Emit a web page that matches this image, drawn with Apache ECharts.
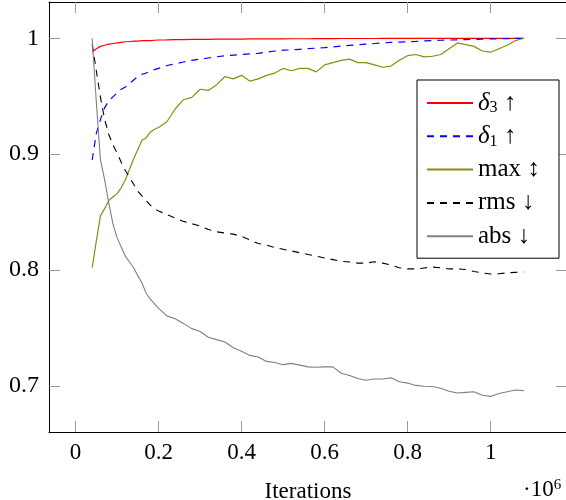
<!DOCTYPE html>
<html>
<head>
<meta charset="utf-8">
<script src="https://cdn.jsdelivr.net/npm/echarts@6/dist/echarts.min.js"></script>
<style>
  html, body { margin: 0; padding: 0; background: #fff; }
  #main { width: 566px; height: 500px; }
</style>
</head>
<body>
<div id="main"></div>
<script type="text/javascript">
// data
var iterations = [
  40000, 50000, 60000, 70000, 80000, 90000, 100000, 110000, 120000, 130000,
  140000, 150000, 160000, 170000, 180000, 190000, 200000,
  220000, 240000, 260000, 280000, 300000, 320000, 340000, 360000, 380000, 400000,
  420000, 440000, 460000, 480000, 500000, 520000, 540000, 560000, 580000, 600000,
  620000, 640000, 660000, 680000, 700000, 720000, 740000, 760000, 780000, 800000,
  820000, 840000, 860000, 880000, 900000, 920000, 940000, 960000, 980000, 1000000,
  1020000, 1040000, 1060000, 1080000
];
var delta3 = [
  0.988, 0.991, 0.993, 0.994, 0.995, 0.9955, 0.996, 0.9965, 0.997, 0.997,
  0.9975, 0.9975, 0.998, 0.998, 0.998, 0.9983, 0.9985,
  0.9986, 0.9988, 0.9989, 0.999, 0.999, 0.9991, 0.9992, 0.9992, 0.9993, 0.9993,
  0.9994, 0.9994, 0.9995, 0.9995, 0.9995, 0.9996, 0.9996, 0.9996, 0.9997, 0.9997,
  0.9997, 0.9998, 0.9998, 0.9998, 0.9998, 0.9998, 0.9999, 0.9999, 0.9999, 0.9999,
  0.9999, 0.9999, 0.9999, 1, 1, 1, 1, 1, 1, 1,
  1, 1, 1, 1
];
var delta1 = [
  0.895, 0.918, 0.930, 0.940, 0.946, 0.9495, 0.953, 0.956, 0.958, 0.961,
  0.964, 0.967, 0.969, 0.970, 0.9715, 0.973, 0.974,
  0.9765, 0.978, 0.9795, 0.981, 0.982, 0.983, 0.984, 0.985, 0.9855, 0.986,
  0.9865, 0.987, 0.988, 0.989, 0.9897, 0.990, 0.9905, 0.991, 0.9915, 0.992,
  0.9926, 0.9932, 0.9938, 0.9944, 0.995, 0.9955, 0.996, 0.9964, 0.9967, 0.997,
  0.9973, 0.9977, 0.998, 0.9983, 0.9985, 0.9987, 0.9989, 0.999, 0.9992, 0.9994,
  0.9996, 0.9997, 0.9999, 1
];
var maxErr = [
  0.802, 0.825, 0.847, 0.853, 0.860, 0.863, 0.866, 0.871, 0.878, 0.887,
  0.896, 0.904, 0.912, 0.914, 0.919, 0.9215, 0.923,
  0.928, 0.939, 0.947, 0.949, 0.956, 0.955, 0.960, 0.967, 0.965, 0.968,
  0.963, 0.965, 0.968, 0.970, 0.974, 0.972, 0.974, 0.974, 0.971, 0.977,
  0.979, 0.981, 0.982, 0.979, 0.979, 0.977, 0.975, 0.976, 0.981, 0.985,
  0.986, 0.984, 0.9845, 0.986, 0.991, 0.996, 0.9945, 0.993, 0.989, 0.988,
  0.991, 0.994, 0.998, 1
];
var rmsErr = [
  0.995, 0.972, 0.949, 0.930, 0.917, 0.908, 0.901, 0.893, 0.886, 0.880,
  0.874, 0.868, 0.864, 0.860, 0.856, 0.853, 0.851,
  0.848, 0.845, 0.842, 0.840, 0.838, 0.835, 0.833, 0.832, 0.831, 0.829,
  0.826, 0.823, 0.8215, 0.8195, 0.818, 0.8165, 0.815, 0.8135, 0.812, 0.8105,
  0.809, 0.8075, 0.807, 0.806, 0.806, 0.8072, 0.806, 0.8043, 0.802, 0.801,
  0.801, 0.8018, 0.8026, 0.802, 0.801, 0.801, 0.8005, 0.7988, 0.7975, 0.7966,
  0.7968, 0.7977, 0.798, 0.7983
];
var absErr = [
  1.0, 0.945, 0.895, 0.878, 0.858, 0.840, 0.828, 0.820, 0.812, 0.807,
  0.802, 0.795, 0.789, 0.780, 0.775, 0.771, 0.767,
  0.7605, 0.758, 0.754, 0.7495, 0.747, 0.742, 0.740, 0.738, 0.733, 0.730,
  0.7264, 0.725, 0.7212, 0.7203, 0.7184, 0.7195, 0.718, 0.7165, 0.7162, 0.7165,
  0.7165, 0.711, 0.709, 0.7065, 0.705, 0.706, 0.706, 0.707, 0.7037, 0.7025,
  0.7005, 0.6998, 0.6995, 0.698, 0.6955, 0.694, 0.6945, 0.695, 0.692, 0.691,
  0.6935, 0.695, 0.6965, 0.696
];
var xTicks = [0, 200000, 400000, 600000, 800000, 1000000];
var yTicks = [0.7, 0.8, 0.9, 1];

var seriesNames = ['d3', 'd1', 'max', 'rms', 'abs'];
var legendText = {
  d3: '{d|δ}{s|3} ↑',
  d1: '{d|δ}{s|1} ↑',
  max: 'max ↕',
  rms: 'rms ↓',
  abs: 'abs ↓'
};

function pairs(ys) {
  var out = [];
  for (var i = 0; i < iterations.length; i++) {
    out.push([iterations[i], ys[i]]);
  }
  return out;
}

var serif = '"Liberation Serif", "DejaVu Serif", serif';
var tickColor = '#9a9a9a';

function line(name, ys, color, dashed, width) {
  return {
    name: name,
    type: 'line',
    data: pairs(ys),
    symbol: 'none',
    showSymbol: false,
    lineStyle: { color: color, width: width, type: dashed ? [7, 6] : 'solid' },
    itemStyle: { color: color },
    emphasis: { disabled: true }
  };
}

var myChart = echarts.init(document.getElementById('main'));

var option = {
  animation: false,
  textStyle: { fontFamily: serif },
  grid: { left: 49, right: -1, top: 2, bottom: 68, outerBoundsMode: 'none', containLabel: false },
  legend: {
    data: seriesNames,
    orient: 'vertical',
    left: 417,
    top: 80,
    padding: [10, 5, 9, 9],
    itemWidth: 46,
    itemHeight: 14,
    itemGap: 7.3,
    borderColor: '#000',
    borderWidth: 1,
    backgroundColor: '#fff',
    selectedMode: false,
    itemStyle: { opacity: 0 },
    formatter: function (name) { return legendText[name]; },
    textStyle: {
      fontFamily: serif,
      fontSize: 25,
      color: '#000',
      lineHeight: 26,
      width: 76,
      align: 'center',
      rich: {
        d: { fontFamily: serif, fontSize: 25, fontStyle: 'italic', color: '#000' },
        s: { fontFamily: serif, fontSize: 16, color: '#000', verticalAlign: 'bottom', lineHeight: 14 }
      }
    }
  },
  xAxis: [
    {
      type: 'value',
      min: -64000,
      max: 1184000,
      position: 'bottom',
      axisLine: { show: true, onZero: false, lineStyle: { color: '#000', width: 1 } },
      axisTick: { show: true, inside: true, length: 11, customValues: xTicks, lineStyle: { color: tickColor } },
      axisLabel: {
        customValues: xTicks,
        margin: 9,
        fontFamily: serif,
        fontSize: 23,
        color: '#000',
        formatter: function (v) { return String(v / 1000000); }
      },
      splitLine: { show: false },
      name: 'Iterations',
      nameLocation: 'middle',
      nameGap: 48,
      nameTextStyle: { fontFamily: serif, fontSize: 23, color: '#000' }
    },
    {
      type: 'value',
      min: -64000,
      max: 1184000,
      position: 'top',
      axisLine: { show: true, onZero: false, lineStyle: { color: '#000', width: 1 } },
      axisTick: { show: true, inside: true, length: 11, customValues: xTicks, lineStyle: { color: tickColor } },
      axisLabel: { show: false },
      splitLine: { show: false }
    }
  ],
  yAxis: [
    {
      type: 'value',
      min: 0.6603,
      max: 1.0313,
      position: 'left',
      axisLine: { show: true, onZero: false, lineStyle: { color: '#000', width: 1 } },
      axisTick: { show: true, inside: true, length: 11, customValues: yTicks, lineStyle: { color: tickColor } },
      axisLabel: {
        customValues: yTicks,
        margin: 10,
        fontFamily: serif,
        fontSize: 24,
        color: '#000',
        formatter: function (v) { return String(Math.round(v * 10) / 10); }
      },
      splitLine: { show: false }
    },
    {
      type: 'value',
      min: 0.6603,
      max: 1.0313,
      position: 'right',
      axisLine: { show: true, onZero: false, lineStyle: { color: '#000', width: 1 } },
      axisTick: { show: true, inside: true, length: 11, customValues: yTicks, lineStyle: { color: tickColor } },
      axisLabel: { show: false },
      splitLine: { show: false }
    }
  ],
  graphic: [
    {
      type: 'text',
      left: 523,
      top: 478,
      style: {
        text: '·10{p|6}',
        fontFamily: serif,
        fontSize: 23,
        fill: '#000',
        rich: {
          p: { fontFamily: serif, fontSize: 15, fill: '#000', verticalAlign: 'top', lineHeight: 14 }
        }
      }
    }
  ],
  series: [
    line('d3', delta3, '#ff0000', false, 1.2),
    line('d1', delta1, '#0000ff', true, 1.2),
    line('max', maxErr, '#8c8c10', false, 1.2),
    line('rms', rmsErr, '#000000', true, 1.1),
    line('abs', absErr, '#808080', false, 1.1)
  ]
};

myChart.setOption(option);
</script>
</body>
</html>
